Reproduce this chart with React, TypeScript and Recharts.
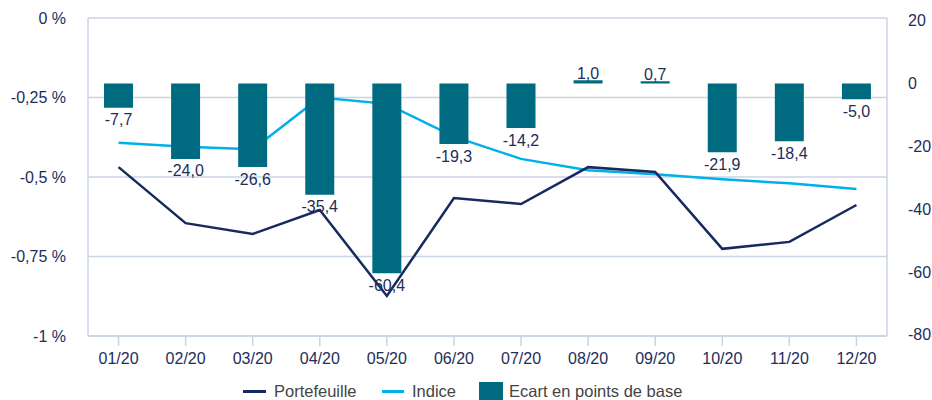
import React from 'react';
import { ComposedChart, Line, Bar, XAxis, YAxis, CartesianGrid, LabelList } from 'recharts';

const months = ['01/20', '02/20', '03/20', '04/20', '05/20', '06/20', '07/20', '08/20', '09/20', '10/20', '11/20', '12/20'];
const portefeuille = [-0.469, -0.645, -0.679, -0.604, -0.874, -0.566, -0.585, -0.469, -0.484, -0.726, -0.704, -0.588];
const indice = [-0.392, -0.405, -0.413, -0.25, -0.27, -0.373, -0.443, -0.479, -0.491, -0.507, -0.52, -0.538];
const ecart = [-7.7, -24.0, -26.6, -35.4, -60.4, -19.3, -14.2, 1.0, 0.7, -21.9, -18.4, -5.0];
const leftTicks = [0, -0.25, -0.5, -0.75, -1];
const rightTicks = [20, 0, -20, -40, -60, -80];

const data = months.map((m, i) => ({
  month: m,
  portefeuille: portefeuille[i],
  indice: indice[i],
  ecart: ecart[i],
}));

const NAVY = '#172a5f';
const SKY = '#00b0ea';
const TEAL = '#006b80';
const GRID = '#c9d5e4';
const TEXT = '#1e2d5a';
const FONT = '"Liberation Sans", Arial, sans-serif';

const tickStyle = { fill: TEXT, fontSize: 16, fontFamily: FONT };

const BarLabel = (props: any) => {
  const { x, y, width, height, value } = props;
  const top = Math.min(y, y + height);
  const bottom = Math.max(y, y + height);
  const cx = x + width / 2;
  const text = Number(value).toFixed(1).replace('.', ',');
  const ty = value < 0 ? bottom + 12 : top - 7;
  return (
    <text x={cx} y={ty} textAnchor="middle" dominantBaseline="central" fill={TEXT} fontSize={16} fontFamily={FONT}>
      {text}
    </text>
  );
};

const legendText: React.CSSProperties = {
  position: 'absolute',
  top: 381,
  height: 20,
  lineHeight: '20px',
  fontSize: 16.5,
  fontFamily: FONT,
  color: '#444444',
  whiteSpace: 'nowrap',
};

export default function App() {
  return (
    <div style={{ position: 'absolute', left: 0, top: 0, width: 932, height: 400, background: '#fff', overflow: 'hidden' }}>
      <ComposedChart width={932} height={400} data={data} margin={{ top: 18, right: 0, left: 0, bottom: 0 }}>
        <CartesianGrid yAxisId="left" vertical={false} stroke={GRID} strokeWidth={1.5} />
        <XAxis
          dataKey="month"
          height={64}
          padding={{ left: -3, right: -3 }}
          axisLine={{ stroke: GRID, strokeWidth: 1.5 }}
          tickLine={{ stroke: GRID, strokeWidth: 1.5 }}
          tickSize={10}
          tickMargin={7}
          tick={tickStyle}
          interval={0}
        />
        <YAxis
          yAxisId="left"
          orientation="left"
          width={88}
          domain={[-1, 0]}
          ticks={leftTicks}
          tickFormatter={(v: number) => String(v).replace('.', ',') + ' %'}
          axisLine={{ stroke: GRID, strokeWidth: 1.5 }}
          tickLine={false}
          tickMargin={16}
          tick={tickStyle}
        />
        <YAxis
          yAxisId="right"
          orientation="right"
          width={45}
          domain={[-80.4, 20.86]}
          ticks={rightTicks}
          tickFormatter={(v: number) => String(v)}
          axisLine={{ stroke: GRID, strokeWidth: 1.5 }}
          tickLine={false}
          tickMargin={15}
          tick={{ ...tickStyle, textAnchor: 'start' }}
          allowDataOverflow
        />
        <Line yAxisId="left" dataKey="indice" stroke={SKY} strokeWidth={2.5} dot={false} activeDot={false} isAnimationActive={false} />
        <Line yAxisId="left" dataKey="portefeuille" stroke={NAVY} strokeWidth={2.5} dot={false} activeDot={false} isAnimationActive={false} />
        <Bar yAxisId="right" dataKey="ecart" fill={TEAL} barSize={29} isAnimationActive={false} zIndex={500}>
          <LabelList dataKey="ecart" content={BarLabel} />
        </Bar>
      </ComposedChart>
      <div style={{ position: 'absolute', left: 243, top: 390, width: 23, height: 3, background: NAVY }} />
      <div style={{ ...legendText, left: 274 }}>Portefeuille</div>
      <div style={{ position: 'absolute', left: 382, top: 390, width: 22, height: 3, background: SKY }} />
      <div style={{ ...legendText, left: 412 }}>Indice</div>
      <div style={{ position: 'absolute', left: 479, top: 382, width: 24, height: 18, background: TEAL }} />
      <div style={{ ...legendText, left: 509 }}>Ecart en points de base</div>
    </div>
  );
}
